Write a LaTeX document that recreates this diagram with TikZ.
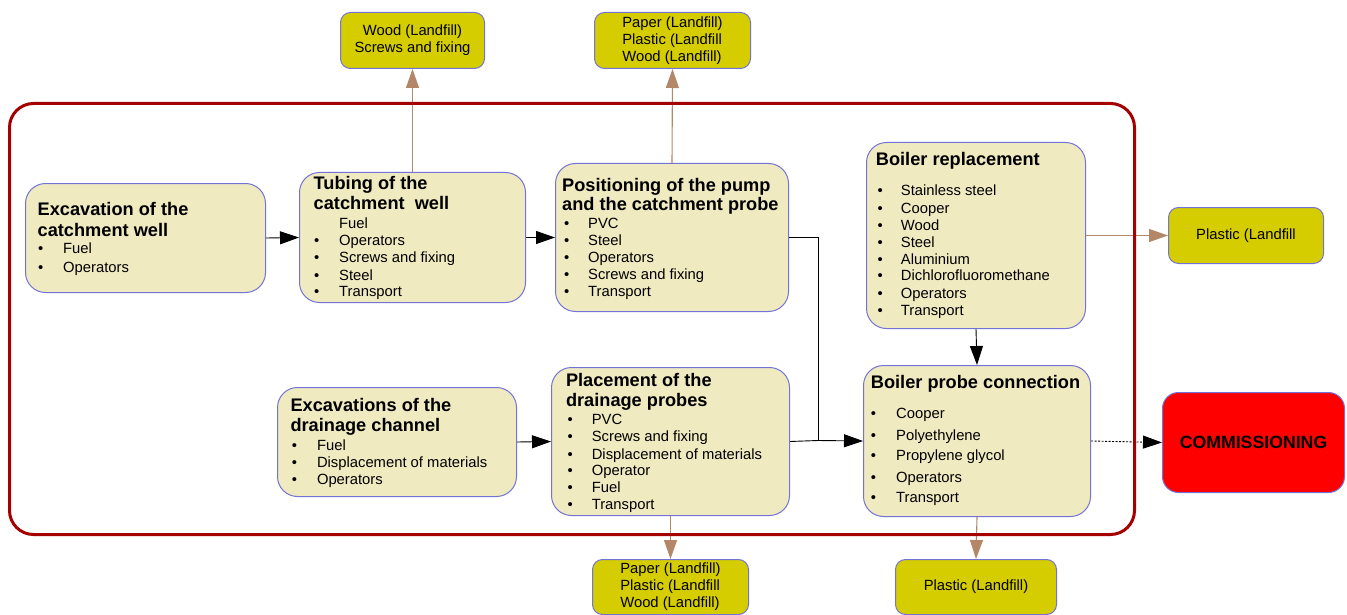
\documentclass[tikz,border=0pt]{standalone}
\usepackage{fontspec}
\setmainfont{Liberation Sans}
\usetikzlibrary{arrows.meta}
\definecolor{cream}{RGB}{240,234,193}
\definecolor{boxline}{RGB}{115,115,215}
\definecolor{olive}{RGB}{213,205,0}
\definecolor{framered}{RGB}{165,0,0}
\definecolor{brownarr}{RGB}{180,135,105}
\definecolor{commred}{RGB}{255,0,0}
\begin{document}
\begin{tikzpicture}[x=1pt,y=-1pt,
  stage/.style={draw=boxline, fill=cream, rounded corners=20pt, line width=1pt, anchor=north west, inner sep=0pt},
  waste/.style={draw=boxline, fill=olive, rounded corners=10pt, line width=1pt, anchor=north west, inner sep=0pt,
    font=\fontsize{14.8}{17}\selectfont, align=left},
  ttl/.style={anchor=base west, font=\fontsize{18.2}{21}\selectfont\bfseries, inner sep=0pt},
  itm/.style={anchor=base west, font=\fontsize{14.8}{17}\selectfont, inner sep=0pt},
  flow/.style={draw=black, line width=0.9pt, -{Triangle[length=19pt,width=13pt]}},
  outflow/.style={draw=brownarr, line width=1.1pt, -{Triangle[length=19pt,width=13pt]}, brownarr},
]
\useasboundingbox (0,0) rectangle (1347,615);

% stage boxes
\node[stage, minimum width=240pt, minimum height=109pt] (b1) at (25,183) {};
\node[stage, minimum width=226pt, minimum height=130pt] (b2) at (299,172) {};
\node[stage, minimum width=233pt, minimum height=148pt] (b3) at (555,163) {};
\node[stage, minimum width=219pt, minimum height=186pt] (b4) at (866,142) {};
\node[stage, minimum width=227pt, minimum height=151pt] (b6) at (863,365) {};
\node[stage, minimum width=239pt, minimum height=109pt] (b8) at (277,387) {};
\node[stage, minimum width=238pt, minimum height=148pt] (b9) at (551,367) {};
\node[draw=boxline, fill=commred, rounded corners=16pt, line width=1pt, anchor=north west,
  minimum width=182pt, minimum height=100pt, inner sep=0pt,
  font=\fontsize{17.7}{21}\selectfont\bfseries] (comm) at (1162,392) {COMMISSIONING};

% waste boxes
\node[waste, align=center, minimum width=144pt, minimum height=56pt] (wA) at (340,12) {Wood (Landfill)\\Screws and fixing};
\node[waste, minimum width=156pt, minimum height=56pt] (wB) at (594,12) {Paper (Landfill)\\Plastic (Landfill\\Wood (Landfill)};
\node[waste, minimum width=156pt, minimum height=55pt] (wC) at (592,559) {Paper (Landfill)\\Plastic (Landfill\\Wood (Landfill)};
\node[waste, align=center, minimum width=161pt, minimum height=55pt] (wD) at (895,559) {Plastic (Landfill)};
\node[waste, align=center, minimum width=155pt, minimum height=56pt] (wE) at (1168,207) {Plastic (Landfill};

% texts: box 1
\node[ttl] (t1a) at (37.5,215) {Excavation of the};
\node[ttl] (t1b) at (37.5,236) {catchment well};
\foreach \yy/\lbl in {253/Fuel,272/Operators}
  {\node[itm] at (38,\yy) {•}; \node[itm] at (63,\yy) {\lbl};}

% box 2
\node[ttl] (t2a) at (313.5,189.5) {Tubing of the};
\node[ttl] (t2b) at (313.5,209.5) {catchment\ \ well};
\node[itm] (t2f) at (339,228.3) {Fuel};
\foreach \yy/\lbl in {245.7/Operators,262.7/Screws and fixing,280/Steel,296.7/Transport}
  {\node[itm] at (314,\yy) {•}; \node[itm] at (339,\yy) {\lbl};}

% box 3
\node[ttl] (t3a) at (562,191) {Positioning of the pump};
\node[ttl] (t3b) at (562,210.7) {and the catchment probe};
\foreach \yy/\lbl in {228.3/PVC,245.7/Steel,262.7/Operators,279.3/Screws and fixing,296.7/Transport}
  {\node[itm] at (564,\yy) {•}; \node[itm] at (588,\yy) {\lbl};}

% box 4
\node[ttl] (t4a) at (875.7,166) {Boiler replacement};
\foreach \yy/\lbl in {196/Stainless steel,213.3/Cooper,230/Wood,247.3/Steel,264/Aluminium,280.7/Dichlorofluoromethane,298/Operators,315.3/Transport}
  {\node[itm] at (877.5,\yy) {•}; \node[itm] at (900.7,\yy) {\lbl};}

% box 6
\node[ttl] (t6a) at (870.7,388.3) {Boiler probe connection};
\foreach \yy/\lbl in {418.3/Cooper,440/Polyethylene,460.7/Propylene glycol,482.3/Operators,502.7/Transport}
  {\node[itm] at (870.7,\yy) {•}; \node[itm] at (896,\yy) {\lbl};}

% box 8
\node[ttl] (t8a) at (290.3,411) {Excavations of the};
\node[ttl] (t8b) at (290.3,431.7) {drainage channel};
\foreach \yy/\lbl in {450/Fuel,467.3/Displacement of materials,484/Operators}
  {\node[itm] at (291.7,\yy) {•}; \node[itm] at (316.8,\yy) {\lbl};}

% box 9
\node[ttl] (t9a) at (565.8,386) {Placement of the};
\node[ttl] (t9b) at (565.8,406.7) {drainage probes};
\foreach \yy/\lbl in {424.3/PVC,441.7/Screws and fixing,459/Displacement of materials,475.7/Operator,492.3/Fuel,509.3/Transport}
  {\node[itm] at (567.5,\yy) {•}; \node[itm] at (591.6,\yy) {\lbl};}

% flow connectors
\coordinate (j) at (818,440.5);
\draw[flow] (b1.east) -- (b2.west);
\draw[flow] (b2.east) -- (b3.west);
\draw[draw=black, line width=0.9pt] (b3.east) -| (j);
\draw[flow] (b9.east) -- (j) -- (b6.west);
\draw[flow] (b8.east) -- (b9.west);
\draw[flow] (b4.south) -- (b6.north);
\draw[draw=black, line width=0.9pt, dash pattern=on 2pt off 1.5pt, -{Triangle[length=19pt,width=13pt]}] (b6.east) -- (comm.west);

% waste connectors
\draw[outflow] (b2.north) -- (wA.south);
\draw[outflow] (b3.north) -- (wB.south);
\draw[outflow] (b4.east) -- (wE.west);
\draw[outflow] (b9.south) -- (wC.north);
\draw[outflow] (b6.south) -- (wD.north);

% system boundary frame
\node[draw=framered, line width=3pt, rounded corners=24pt, anchor=north west, inner sep=0pt,
  minimum width=1125pt, minimum height=431pt] (frm) at (8,102) {};
\end{tikzpicture}
\end{document}
